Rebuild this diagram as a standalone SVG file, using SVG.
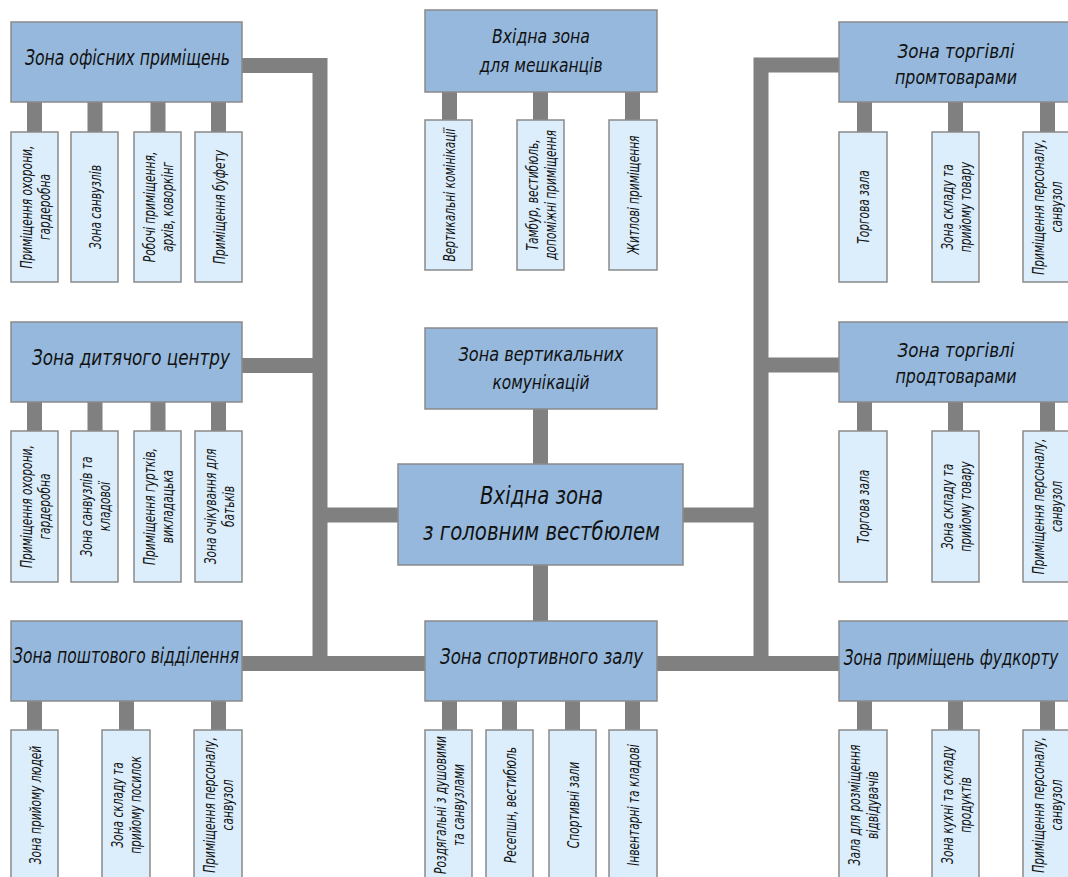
<svg xmlns="http://www.w3.org/2000/svg" width="1068" height="877" viewBox="0 0 1068 877">
  <style>
    .zone { fill: #95b8dc; stroke: #8a8a8a; stroke-width: 1.5; }
    .room { fill: #dcedfb; stroke: #8a8a8a; stroke-width: 1.5; }
    .link { fill: none; stroke: #808080; stroke-width: 15; stroke-linejoin: miter; stroke-linecap: butt; }
    .t { font-family: "DejaVu Sans Condensed", "DejaVu Sans", sans-serif; font-stretch: condensed; font-style: italic; fill: #111; text-anchor: middle; }
    .tz { font-size: 22px; }
    .tz2 { font-size: 19px; }
    .tc { font-size: 25px; }
    .tr { font-size: 16px; }
  </style>

  <rect x="0" y="0" width="1068" height="877" fill="#ffffff"/>

  <!-- connectors -->
  <g id="connectors">
    <path class="link" d="M242 65.5 H320 V663.5"/>
    <path class="link" d="M839 65 H761 V663.5"/>
    <path class="link" d="M242 365.5 H320"/>
    <path class="link" d="M761 365 H839"/>
    <path class="link" d="M320 515 H398"/>
    <path class="link" d="M683 515 H761"/>
    <path class="link" d="M242 663.5 H425"/>
    <path class="link" d="M657 663.5 H839"/>
    <path class="link" d="M540.5 409 V464"/>
    <path class="link" d="M540.5 565 V621"/>
    <!-- office stubs -->
    <path class="link" d="M34.5 102 V132 M95 102 V132 M158 102 V132 M218.5 102 V132"/>
    <!-- children centre stubs -->
    <path class="link" d="M34.5 402 V431 M95 402 V431 M158 402 V431 M218.5 402 V431"/>
    <!-- post stubs -->
    <path class="link" d="M34.5 701 V730 M126.5 701 V730 M218.5 701 V730"/>
    <!-- residents stubs -->
    <path class="link" d="M449.5 92 V120 M540.5 92 V120 M632.5 92 V120"/>
    <!-- sport stubs -->
    <path class="link" d="M449.5 701 V730 M509.5 701 V730 M572.5 701 V730 M632.5 701 V730"/>
    <!-- right column stubs -->
    <path class="link" d="M864.5 102 V132 M955.5 102 V132 M1047.5 102 V132"/>
    <path class="link" d="M864.5 402 V431 M955.5 402 V431 M1047.5 402 V431"/>
    <path class="link" d="M864.5 701 V730 M955.5 701 V730 M1047.5 701 V730"/>
  </g>

  <!-- main zones -->
  <g id="zone-office">
    <rect class="zone" x="11" y="22" width="231" height="80"/>
    <text class="t tz" x="127.5" y="65" textLength="205" lengthAdjust="spacingAndGlyphs">Зона офісних приміщень</text>
  </g>
  <g id="zone-kids">
    <rect class="zone" x="11" y="322" width="231" height="80"/>
    <text class="t tz" x="131" y="365" textLength="198" lengthAdjust="spacingAndGlyphs">Зона дитячого центру</text>
  </g>
  <g id="zone-post">
    <rect class="zone" x="11" y="621" width="231" height="80"/>
    <text class="t tz" x="126" y="663" textLength="226" lengthAdjust="spacingAndGlyphs">Зона поштового відділення</text>
  </g>
  <g id="zone-residents">
    <rect class="zone" x="425" y="10" width="232" height="82"/>
    <text class="t tz2" x="541" y="43" textLength="98" lengthAdjust="spacingAndGlyphs">Вхідна зона</text>
    <text class="t tz2" x="541" y="72" textLength="123" lengthAdjust="spacingAndGlyphs">для мешканців</text>
  </g>
  <g id="zone-vertical">
    <rect class="zone" x="425" y="328" width="232" height="81"/>
    <text class="t tz2" x="541" y="361" textLength="165" lengthAdjust="spacingAndGlyphs">Зона вертикальних</text>
    <text class="t tz2" x="541" y="389" textLength="97" lengthAdjust="spacingAndGlyphs">комунікацій</text>
  </g>
  <g id="zone-lobby">
    <rect class="zone" x="398" y="464" width="285" height="101"/>
    <text class="t tc" x="541.5" y="504" textLength="123" lengthAdjust="spacingAndGlyphs">Вхідна зона</text>
    <text class="t tc" x="541.5" y="540" textLength="237" lengthAdjust="spacingAndGlyphs">з головним вестбюлем</text>
  </g>
  <g id="zone-sport">
    <rect class="zone" x="425" y="621" width="232" height="80"/>
    <text class="t tz" x="541.5" y="664" textLength="203" lengthAdjust="spacingAndGlyphs">Зона спортивного залу</text>
  </g>
  <g id="zone-goods">
    <rect class="zone" x="839" y="22" width="233" height="80"/>
    <text class="t tz2" x="956" y="58" textLength="117" lengthAdjust="spacingAndGlyphs">Зона торгівлі</text>
    <text class="t tz2" x="956" y="84" textLength="122" lengthAdjust="spacingAndGlyphs">промтоварами</text>
  </g>
  <g id="zone-food">
    <rect class="zone" x="839" y="322" width="233" height="80"/>
    <text class="t tz2" x="956" y="357" textLength="117" lengthAdjust="spacingAndGlyphs">Зона торгівлі</text>
    <text class="t tz2" x="956" y="383" textLength="121" lengthAdjust="spacingAndGlyphs">продтоварами</text>
  </g>
  <g id="zone-foodcourt">
    <rect class="zone" x="839" y="621" width="233" height="80"/>
    <text class="t tz" transform="translate(951,665) scale(0.77,1)" x="0" y="0">Зона приміщень фудкорту</text>
  </g>

  <!-- rooms: office -->
  <g id="office-1">
    <rect class="room" x="11" y="132" width="47" height="150"/>
    <text class="t tr" transform="translate(34.5,207) rotate(-90) scale(0.74,1)"><tspan x="0" y="-3">Приміщення охорони,</tspan><tspan x="0" y="15.5">гардеробна</tspan></text>
  </g>
  <g id="office-2">
    <rect class="room" x="71" y="132" width="47" height="150"/>
    <text class="t tr" transform="translate(94.5,207) rotate(-90) scale(0.74,1)" y="6">Зона санвузлів</text>
  </g>
  <g id="office-3">
    <rect class="room" x="134" y="132" width="47" height="150"/>
    <text class="t tr" transform="translate(157.5,207) rotate(-90) scale(0.74,1)"><tspan x="0" y="-3">Робочі приміщення,</tspan><tspan x="0" y="15.5">архів, коворкінг</tspan></text>
  </g>
  <g id="office-4">
    <rect class="room" x="195" y="132" width="47" height="150"/>
    <text class="t tr" transform="translate(218.5,207) rotate(-90) scale(0.74,1)" y="6">Приміщення буфету</text>
  </g>

  <!-- rooms: children centre -->
  <g id="kids-1">
    <rect class="room" x="11" y="431" width="47" height="151"/>
    <text class="t tr" transform="translate(34.5,506.5) rotate(-90) scale(0.74,1)"><tspan x="0" y="-3">Приміщення охорони,</tspan><tspan x="0" y="15.5">гардеробна</tspan></text>
  </g>
  <g id="kids-2">
    <rect class="room" x="71" y="431" width="47" height="151"/>
    <text class="t tr" transform="translate(94.5,506.5) rotate(-90) scale(0.74,1)"><tspan x="0" y="-3">Зона санвузлів та</tspan><tspan x="0" y="15.5">кладової</tspan></text>
  </g>
  <g id="kids-3">
    <rect class="room" x="134" y="431" width="47" height="151"/>
    <text class="t tr" transform="translate(157.5,506.5) rotate(-90) scale(0.74,1)"><tspan x="0" y="-3">Приміщення гуртків,</tspan><tspan x="0" y="15.5">викладацька</tspan></text>
  </g>
  <g id="kids-4">
    <rect class="room" x="195" y="431" width="47" height="151"/>
    <text class="t tr" transform="translate(218.5,506.5) rotate(-90) scale(0.74,1)"><tspan x="0" y="-3">Зона очікування для</tspan><tspan x="0" y="15.5">батьків</tspan></text>
  </g>

  <!-- rooms: post office -->
  <g id="post-1">
    <rect class="room" x="11" y="730" width="47" height="150"/>
    <text class="t tr" transform="translate(34.5,805) rotate(-90) scale(0.74,1)" y="6">Зона прийому людей</text>
  </g>
  <g id="post-2">
    <rect class="room" x="102" y="730" width="48" height="150"/>
    <text class="t tr" transform="translate(126,805) rotate(-90) scale(0.74,1)"><tspan x="0" y="-3">Зона складу та</tspan><tspan x="0" y="15.5">прийому посилок</tspan></text>
  </g>
  <g id="post-3">
    <rect class="room" x="194" y="730" width="48" height="150"/>
    <text class="t tr" transform="translate(218,805) rotate(-90) scale(0.74,1)"><tspan x="0" y="-3">Приміщення персоналу,</tspan><tspan x="0" y="15.5">санвузол</tspan></text>
  </g>

  <!-- rooms: residents entrance -->
  <g id="res-1">
    <rect class="room" x="425" y="120" width="47" height="150"/>
    <text class="t tr" transform="translate(448.5,195) rotate(-90) scale(0.74,1)" y="6">Вертикальні комінікації</text>
  </g>
  <g id="res-2">
    <rect class="room" x="517" y="120" width="47" height="150"/>
    <text class="t tr" transform="translate(540.5,195) rotate(-90) scale(0.74,1)"><tspan x="0" y="-3">Тамбур, вестибюль,</tspan><tspan x="0" y="15.5">допоміжні приміщення</tspan></text>
  </g>
  <g id="res-3">
    <rect class="room" x="609" y="120" width="48" height="150"/>
    <text class="t tr" transform="translate(633,195) rotate(-90) scale(0.74,1)" y="6">Житлові приміщення</text>
  </g>

  <!-- rooms: sports hall -->
  <g id="sport-1">
    <rect class="room" x="425" y="730" width="47" height="150"/>
    <text class="t tr" transform="translate(448.5,805) rotate(-90) scale(0.74,1)"><tspan x="0" y="-3">Роздягальні з душовими</tspan><tspan x="0" y="15.5">та санвузлами</tspan></text>
  </g>
  <g id="sport-2">
    <rect class="room" x="486" y="730" width="47" height="150"/>
    <text class="t tr" transform="translate(509.5,805) rotate(-90) scale(0.74,1)" y="6">Ресепшн, вестибюль</text>
  </g>
  <g id="sport-3">
    <rect class="room" x="549" y="730" width="47" height="150"/>
    <text class="t tr" transform="translate(572.5,805) rotate(-90) scale(0.74,1)" y="6">Спортивні зали</text>
  </g>
  <g id="sport-4">
    <rect class="room" x="609" y="730" width="48" height="150"/>
    <text class="t tr" transform="translate(633,805) rotate(-90) scale(0.74,1)" y="6">Інвентарні та кладові</text>
  </g>

  <!-- rooms: non-food retail -->
  <g id="goods-1">
    <rect class="room" x="839" y="132" width="48" height="150"/>
    <text class="t tr" transform="translate(863,207) rotate(-90) scale(0.74,1)" y="6">Торгова зала</text>
  </g>
  <g id="goods-2">
    <rect class="room" x="932" y="132" width="47" height="150"/>
    <text class="t tr" transform="translate(955.5,207) rotate(-90) scale(0.74,1)"><tspan x="0" y="-3">Зона складу та</tspan><tspan x="0" y="15.5">прийому товару</tspan></text>
  </g>
  <g id="goods-3">
    <rect class="room" x="1023" y="132" width="47" height="150"/>
    <text class="t tr" transform="translate(1046.5,207) rotate(-90) scale(0.74,1)"><tspan x="0" y="-3">Приміщення персоналу,</tspan><tspan x="0" y="15.5">санвузол</tspan></text>
  </g>

  <!-- rooms: food retail -->
  <g id="food-1">
    <rect class="room" x="839" y="431" width="48" height="151"/>
    <text class="t tr" transform="translate(863,506.5) rotate(-90) scale(0.74,1)" y="6">Торгова зала</text>
  </g>
  <g id="food-2">
    <rect class="room" x="932" y="431" width="47" height="151"/>
    <text class="t tr" transform="translate(955.5,506.5) rotate(-90) scale(0.74,1)"><tspan x="0" y="-3">Зона складу та</tspan><tspan x="0" y="15.5">прийому товару</tspan></text>
  </g>
  <g id="food-3">
    <rect class="room" x="1023" y="431" width="47" height="151"/>
    <text class="t tr" transform="translate(1046.5,506.5) rotate(-90) scale(0.74,1)"><tspan x="0" y="-3">Приміщення персоналу,</tspan><tspan x="0" y="15.5">санвузол</tspan></text>
  </g>

  <!-- rooms: food court -->
  <g id="court-1">
    <rect class="room" x="839" y="730" width="48" height="150"/>
    <text class="t tr" transform="translate(863,805) rotate(-90) scale(0.74,1)"><tspan x="0" y="-3">Зала для розміщення</tspan><tspan x="0" y="15.5">відвідувачів</tspan></text>
  </g>
  <g id="court-2">
    <rect class="room" x="932" y="730" width="47" height="150"/>
    <text class="t tr" transform="translate(955.5,805) rotate(-90) scale(0.74,1)"><tspan x="0" y="-3">Зона кухні та складу</tspan><tspan x="0" y="15.5">продуктів</tspan></text>
  </g>
  <g id="court-3">
    <rect class="room" x="1023" y="730" width="47" height="150"/>
    <text class="t tr" transform="translate(1046.5,805) rotate(-90) scale(0.74,1)"><tspan x="0" y="-3">Приміщення персоналу,</tspan><tspan x="0" y="15.5">санвузол</tspan></text>
  </g>
</svg>
